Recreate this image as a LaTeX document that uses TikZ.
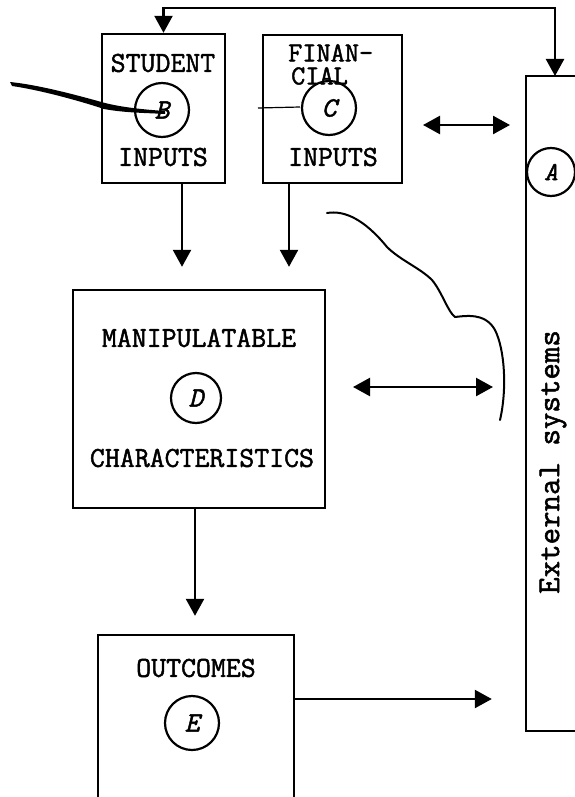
\documentclass[tikz,border=0pt]{standalone}
\usepackage{fontspec}
\newfontfamily\tw{Latin Modern Mono}[FakeBold=1.6]
\usetikzlibrary{arrows.meta}
\begin{document}
\begin{tikzpicture}[x=1pt,y=1pt,
  box/.style={draw,line width=2.4pt,rectangle,inner sep=0pt},
  circ/.style={draw,line width=2.2pt,circle,inner sep=0pt},
  lbl/.style={font=\tw\fontsize{29}{29}\selectfont,inner sep=0pt},
  let/.style={font=\tw\itshape\fontsize{28}{28}\selectfont,inner sep=0pt},
  arr/.style={line width=2.4pt,-{Triangle[length=17pt,width=18pt]}},
  dbl/.style={line width=2.4pt,{Triangle[length=17pt,width=18pt]}-{Triangle[length=17pt,width=18pt]}},
  scrib/.style={line width=2.4pt,line cap=round,line join=round}]
\useasboundingbox (0,0) rectangle (574,-797);
% boxes
\node[box,minimum width=123pt,minimum height=149pt] (Bbox) at (163.5,-108.5) {};
\node[box,minimum width=139pt,minimum height=148pt] (Cbox) at (332.5,-109) {};
\node[box,minimum width=252pt,minimum height=218pt] (Dbox) at (199,-399) {};
\node[box,minimum width=196pt,minimum height=200pt] (Ebox) at (196,-735) {};
\node[box,minimum width=100pt,minimum height=655pt] (Abox) at (576,-403.5) {};
% circles
\node[circ,minimum size=54pt] (Bc) at (162,-110) {};
\node[circ,minimum size=54pt] (Cc) at (329,-108) {};
\node[circ,minimum size=50pt] (Dc) at (196,-398) {};
\node[circ,minimum size=54pt] (Ec) at (192,-723) {};
\node[circ,minimum size=48pt] (Ac) at (551,-172) {};
\node[let] (Bl) at (Bc) {B};
\node[let] (Cl) at (Cc) {C};
\node[let] (Dl) at (Dc) {D};
\node[let] (El) at (Ec) {E};
\node[let,font=\tw\itshape\fontsize{26}{26}\selectfont] (Al) at (Ac) {A};
% texts
\node[lbl] (t1) at (163,-63) {STUDENT};
\node[lbl] (t2) at (163,-157) {INPUTS};
\node[lbl,font=\tw\fontsize{27.5}{23}\selectfont,align=left,anchor=north west] (t3) at (288,-44) {FINAN-\\\hspace*{3pt}CIAL};
\node[lbl] (t5) at (333,-157) {INPUTS};
\node[lbl] (t6) at (199,-338) {MANIPULATABLE};
\node[lbl] (t7) at (202,-458) {CHARACTERISTICS};
\node[lbl] (t8) at (196,-668) {OUTCOMES};
\node[lbl,font=\tw\fontsize{32}{32}\selectfont,rotate=90] (t9) at (553,-462) {External systems};
% connectors
\coordinate (topy) at (0,-8);
\coordinate (Atop) at (555,-76);
\draw[dbl] (Bbox.north) -- (Bbox.north |- topy) -| (Atop);
\draw[arr,shorten >=22pt] (Bbox.south -| 182,0) -- (Dbox.north -| 182,0);
\draw[arr,shorten >=22pt] (Cbox.south -| 289,0) -- (Dbox.north -| 289,0);
\draw[arr,shorten >=18pt] (Dbox.south -| 195,0) -- (Ebox.north -| 195,0);
\coordinate (ca1) at (423,-125);
\coordinate (ca2) at (510,-125);
\draw[dbl] (ca1) -- (ca2);
\coordinate (da1) at (353,-387);
\coordinate (da2) at (493,-387);
\draw[dbl] (da1) -- (da2);
\draw[arr,shorten >=33pt] (Ebox.east |- 0,-699) -- (Abox.west |- 0,-699);
% stray marks of the scan
\fill[line join=round] (10,-82) .. controls (40,-85) and (80,-96) .. (105,-103) .. controls (125,-108) and (150,-110) .. (165,-111) -- (165,-114) .. controls (150,-113) and (125,-113) .. (104,-109) .. controls (80,-101) and (40,-90) .. (12,-86) -- cycle;
\draw[line width=1.2pt] (258,-108) -- (300,-107);
\draw[scrib,line width=2pt] (327,-213) .. controls (345,-210) and (365,-220) .. (387,-247) .. controls (400,-260) and (420,-268) .. (432,-280) .. controls (442,-292) and (448,-312) .. (455,-317) .. controls (465,-316) and (485,-312) .. (495,-330) .. controls (505,-350) and (507,-390) .. (500,-420);
\end{tikzpicture}
\end{document}
